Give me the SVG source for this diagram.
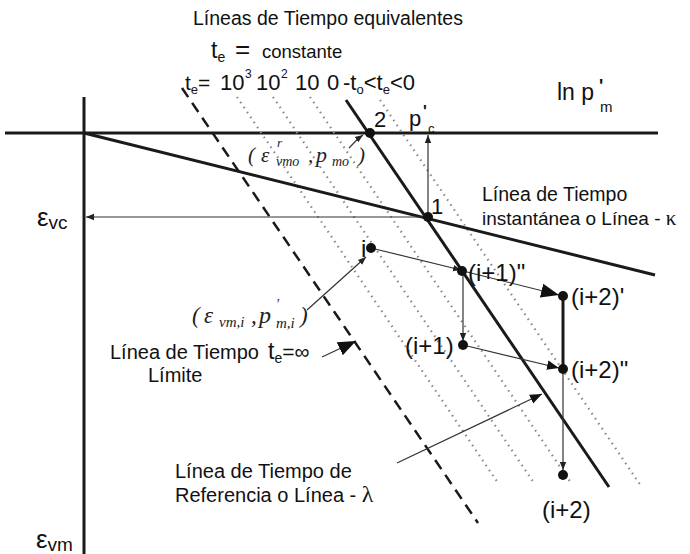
<svg xmlns="http://www.w3.org/2000/svg" width="690" height="554" viewBox="0 0 690 554">
<defs>
<style>
.t{font-family:"Liberation Sans",Arial,sans-serif;fill:#111}
.m{font-family:"Liberation Serif","Times New Roman",serif;font-style:italic;fill:#222}
.thick{stroke:#1a1a1a;stroke-width:3;fill:none}
.thin{stroke:#333;stroke-width:1.2;fill:none}
.dot{stroke:#888;stroke-width:2.2;stroke-dasharray:1.5 4.5;fill:none}
.dash{stroke:#1a1a1a;stroke-width:2.5;stroke-dasharray:11 7;fill:none}
.pt{fill:#111}
.lbl{font-size:24px}
</style>
<marker id="ah" viewBox="0 0 10 10" refX="10" refY="5" markerWidth="8" markerHeight="8" markerUnits="userSpaceOnUse" orient="auto"><path d="M0,1 L10,5 L0,9 z" fill="#222"/></marker>
<marker id="ahL" viewBox="0 0 10 10" refX="10" refY="5" markerWidth="18" markerHeight="18" markerUnits="userSpaceOnUse" orient="auto"><path d="M0,1 L10,5 L0,9 z" fill="#111"/></marker>
<marker id="ahM" viewBox="0 0 10 10" refX="10" refY="5" markerWidth="12" markerHeight="12" markerUnits="userSpaceOnUse" orient="auto"><path d="M0,1 L10,5 L0,9 z" fill="#111"/></marker>
</defs>
<rect width="690" height="554" fill="#fff"/>

<g id="axes">
<line class="thick" x1="84" y1="97" x2="84" y2="554"/>
<line class="thick" x1="5" y1="133" x2="658" y2="133"/>
</g>

<g id="time-lines">
<line class="dot" x1="237" y1="97" x2="498" y2="483"/>
<line class="dot" x1="273" y1="97" x2="534" y2="483"/>
<line class="dot" x1="310" y1="97" x2="571" y2="483"/>
<line class="dot" x1="380" y1="100" x2="641" y2="486"/>
<line class="dash" x1="182" y1="88" x2="478" y2="523"/>
</g>

<g id="kappa-line"><line class="thick" x1="84" y1="133" x2="655" y2="275"/></g>
<g id="lambda-line"><line class="thick" x1="346" y1="100" x2="609" y2="487"/></g>

<g id="connectors">
<line class="thin" x1="428" y1="217" x2="428" y2="135" marker-end="url(#ah)"/>
<line class="thin" x1="428" y1="217" x2="86" y2="217" marker-end="url(#ah)"/>
<line class="thin" x1="371" y1="248" x2="461" y2="270" marker-end="url(#ah)"/>
<line class="thin" x1="463" y1="271" x2="559" y2="295" marker-end="url(#ahL)"/>
<line class="thin" x1="463" y1="271" x2="463" y2="341" marker-end="url(#ah)"/>
<line class="thin" x1="463" y1="345" x2="559" y2="368" marker-end="url(#ahM)"/>
<line class="thick" x1="563" y1="296" x2="563" y2="369"/>
<line class="thin" x1="563" y1="369" x2="563" y2="470" marker-end="url(#ah)"/>
<line class="thin" x1="307" y1="310" x2="366" y2="257" marker-end="url(#ah)"/>
<path class="thin" d="M349,148 Q356,140 363,135" marker-end="url(#ah)"/>
<line class="thin" x1="322" y1="357" x2="356" y2="341" marker-end="url(#ahL)"/>
<line class="thin" x1="397" y1="463" x2="542" y2="394" marker-end="url(#ahM)"/>
</g>

<g id="p2"><circle class="pt" cx="370" cy="133" r="5"/><text class="t" x="374" y="127" font-size="22">2</text></g>
<g id="p1"><circle class="pt" cx="428" cy="217" r="5"/><text class="t" x="431" y="214" font-size="22">1</text></g>
<g id="pi"><circle class="pt" cx="371" cy="248" r="5"/><text class="t lbl" x="361" y="257">i</text></g>
<g id="pi1pp"><circle class="pt" cx="462" cy="271" r="5"/><text class="t lbl" x="468" y="281">(i+1)"</text></g>
<g id="pi1"><circle class="pt" cx="463" cy="345" r="5"/><text class="t lbl" x="405" y="354">(i+1)</text></g>
<g id="pi2p"><circle class="pt" cx="563" cy="296" r="5"/><text class="t lbl" x="571" y="305">(i+2)'</text></g>
<g id="pi2pp"><circle class="pt" cx="563" cy="369" r="5"/><text class="t lbl" x="571" y="378">(i+2)"</text></g>
<g id="pi2"><circle class="pt" cx="563" cy="475" r="5"/><text class="t lbl" x="542" y="518">(i+2)</text></g>

<g id="labels">
<text class="t" x="193" y="25" font-size="19.5">Líneas de Tiempo equivalentes</text>
<text class="t" x="211" y="58" font-size="23">t<tspan font-size="14" dy="4">e</tspan></text>
<text class="t" x="235" y="58" font-size="26">=</text>
<text class="t" x="262" y="58" font-size="18.5">constante</text>
<text class="t" x="185" y="90" font-size="21">t<tspan font-size="13" dy="4">e</tspan><tspan dy="-4">=</tspan></text>
<text class="t" x="220" y="90" font-size="22">10</text><text class="t" x="245" y="78" font-size="12">3</text>
<text class="t" x="256" y="90" font-size="22">10</text><text class="t" x="281" y="78" font-size="12">2</text>
<text class="t" x="295" y="90" font-size="22">10</text>
<text class="t" x="327" y="90" font-size="22">0</text>
<text class="t" x="343" y="90" font-size="22">-t<tspan font-size="13" dy="4">o</tspan><tspan dy="-4">&lt;t</tspan><tspan font-size="13" dy="4">e</tspan><tspan dy="-4">&lt;0</tspan></text>
<text class="t" x="557" y="100" font-size="23">ln p</text>
<text class="t" x="599" y="92" font-size="18" font-weight="bold">'</text>
<text class="t" x="600" y="112" font-size="15">m</text>
<text class="t" x="409" y="126" font-size="22">p</text>
<text class="t" x="423" y="117" font-size="16" font-weight="bold">'</text>
<text class="t" x="428" y="133" font-size="13">c</text>
<text class="m" x="248" y="162" font-size="21">(</text>
<text class="m" x="261" y="162" font-size="21">ε</text>
<text class="m" x="277" y="147" font-size="13">r</text>
<text class="m" x="276" y="166" font-size="14">vmo</text>
<text class="m" x="308" y="162" font-size="21">,</text>
<text class="m" x="316" y="162" font-size="22">p</text>
<text class="m" x="332" y="166" font-size="14">mo</text>
<text class="m" x="358" y="162" font-size="21">)</text>
<text class="t" x="482" y="201" font-size="19.5">Línea de Tiempo</text>
<text class="t" x="482" y="225" font-size="19">instantánea o Línea - <tspan font-family="Liberation Serif,serif" font-size="21">κ</tspan></text>
<text class="t" x="37" y="226" font-size="26">ε<tspan font-size="19" dy="3">vc</tspan></text>
<text class="m" x="192" y="323" font-size="23">(</text>
<text class="m" x="204" y="323" font-size="23">ε</text>
<text class="m" x="219" y="327" font-size="15">vm,i</text>
<text class="m" x="251" y="323" font-size="23">,</text>
<text class="m" x="259" y="323" font-size="24">p</text>
<text class="m" x="276" y="309" font-size="14">'</text>
<text class="m" x="276" y="328" font-size="15">m,i</text>
<text class="m" x="300" y="323" font-size="23">)</text>
<text class="t" x="110" y="359" font-size="20">Línea de Tiempo</text>
<text class="t" x="268" y="359" font-size="23">t<tspan font-size="14" dy="4">e</tspan><tspan font-size="21" dy="-4">=∞</tspan></text>
<text class="t" x="148" y="382" font-size="20">Límite</text>
<text class="t" x="175" y="478" font-size="20">Línea de Tiempo de</text>
<text class="t" x="175" y="502" font-size="20">Referencia o Línea - <tspan font-family="Liberation Serif,serif" font-size="24">λ</tspan></text>
<text class="t" x="36" y="548" font-size="26">ε<tspan font-size="19" dy="3">vm</tspan></text>
</g>
</svg>
